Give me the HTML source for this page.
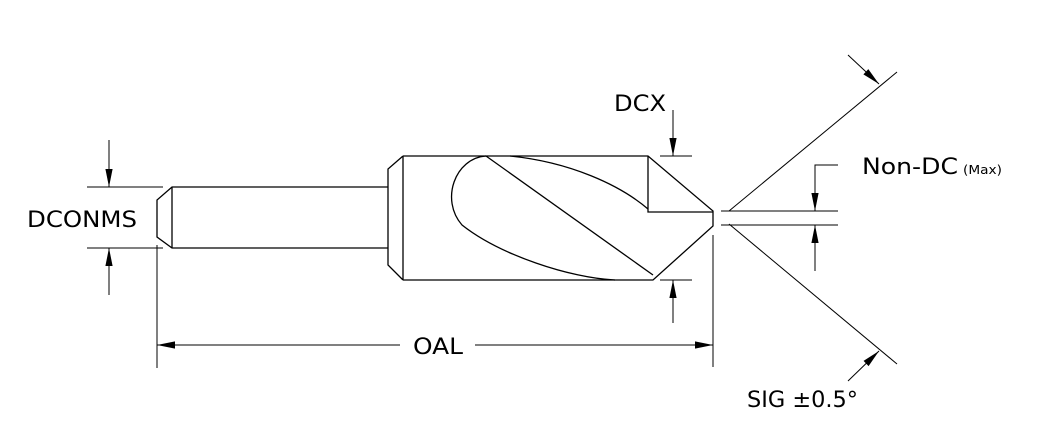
<!DOCTYPE html>
<html><head><style>body{margin:0;background:#fff}svg{display:block}text{font-family:"DejaVu Sans","Liberation Sans",sans-serif;fill:#000}</style></head><body>
<svg width="1046" height="444" viewBox="0 0 1046 444" xmlns="http://www.w3.org/2000/svg">
<defs><marker id="b" viewBox="0 0 20 10" refX="20" refY="5" markerWidth="20" markerHeight="9" markerUnits="userSpaceOnUse" orient="auto"><path d="M0,1 L20,5 L0,9z" fill="#000"/></marker></defs>
<g fill="none" stroke="#000" stroke-width="1.3">
<path d="M388,187 H172 L157,200 V237 L172,248 H388"/>
<line x1="172" y1="187" x2="172" y2="248"/>
<path d="M403,156 L388,169 V265 L403,280"/>
<line x1="403" y1="156" x2="403" y2="280"/>
<path d="M403,156 H648 L713,211 V226 L653,280 H403"/>
<path d="M648,156 V212 H713"/>
<path d="M486,156 C455,158 440,200 462,225 C500,255 570,278 615,280"/>
<line x1="486" y1="156" x2="653" y2="275"/>
<path d="M510,156 C570,162 620,185 648,209"/>
</g>
<g stroke="#000" stroke-width="1" fill="none">
<line x1="87" y1="187" x2="163" y2="187"/><line x1="87" y1="248" x2="163" y2="248"/>
<line x1="109" y1="140" x2="109" y2="187" marker-end="url(#b)"/>
<line x1="109" y1="295" x2="109" y2="248" marker-end="url(#b)"/>
<line x1="157" y1="245" x2="157" y2="368"/>
<line x1="660" y1="156" x2="692" y2="156"/><line x1="660" y1="280" x2="692" y2="280"/>
<line x1="673" y1="110" x2="673" y2="156" marker-end="url(#b)"/>
<line x1="673" y1="323" x2="673" y2="280" marker-end="url(#b)"/>
<line x1="713" y1="235" x2="713" y2="367"/>
<line x1="400" y1="345" x2="157" y2="345" marker-end="url(#b)"/>
<line x1="475" y1="345" x2="713" y2="345" marker-end="url(#b)"/>
<line x1="729" y1="211" x2="897" y2="72"/>
<line x1="729" y1="224" x2="897" y2="364"/>
<line x1="848" y1="55" x2="879" y2="84" marker-end="url(#b)"/>
<line x1="848" y1="381" x2="879" y2="351" marker-end="url(#b)"/>
<line x1="721" y1="211" x2="838" y2="211"/><line x1="721" y1="225" x2="838" y2="225"/>
<path d="M838,165 H815 V211" marker-end="url(#b)"/>
<line x1="815" y1="271" x2="815" y2="225" marker-end="url(#b)"/>
</g>
<text x="27" y="227" font-size="22" textLength="110" lengthAdjust="spacingAndGlyphs">DCONMS</text>
<text x="614" y="111" font-size="22" textLength="52" lengthAdjust="spacingAndGlyphs">DCX</text>
<text x="413" y="354" font-size="22" textLength="50" lengthAdjust="spacingAndGlyphs">OAL</text>
<text x="862" y="174" font-size="22" textLength="96" lengthAdjust="spacingAndGlyphs">Non-DC</text>
<text x="963" y="174" font-size="12" textLength="39" lengthAdjust="spacingAndGlyphs">(Max)</text>
<text x="747" y="407" font-size="22" textLength="111" lengthAdjust="spacingAndGlyphs">SIG ±0.5°</text>
</svg>
</body></html>
